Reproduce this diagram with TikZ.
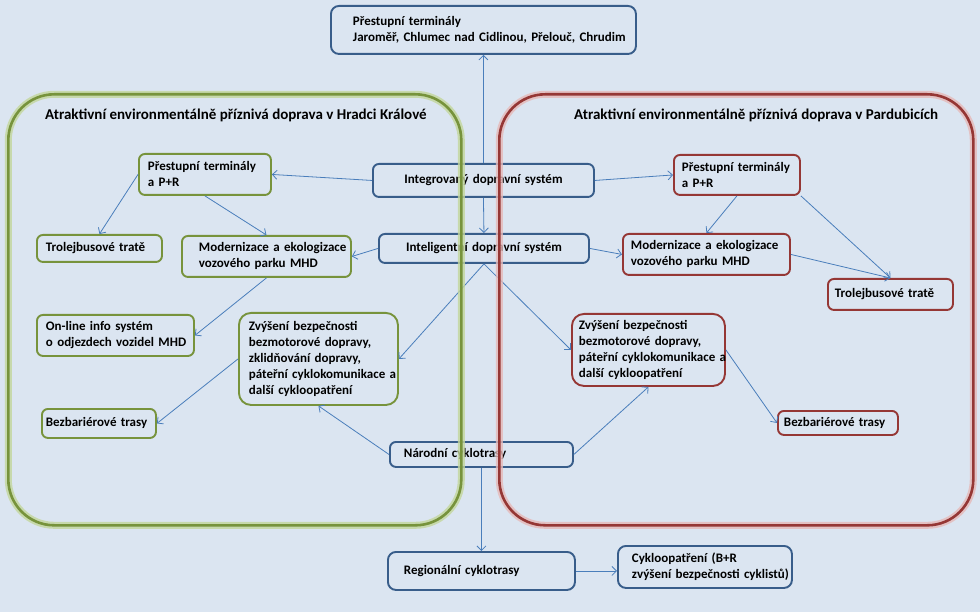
\documentclass[tikz,border=0pt]{standalone}
\usepackage{fontspec}
\setmainfont{Carlito}
\usetikzlibrary{arrows.meta}
\definecolor{bgc}{HTML}{DBE5F1}
\definecolor{boxblue}{HTML}{385D8A}
\definecolor{grn}{HTML}{77933C}
\definecolor{grnglow}{HTML}{C3D69B}
\definecolor{redc}{HTML}{953735}
\definecolor{redglow}{HTML}{E6B9B8}
\definecolor{arrc}{HTML}{4A7EBB}
\newcommand\mkbox[8]{%
  \pgfmathsetmacro\bxw{#5-#3-2*#7}%
  \pgfmathsetmacro\bxh{#6-#4}%
  \node[#1, anchor=north west, text width=\bxw pt, inner xsep=#7pt, minimum height=\bxh pt] (#2) at (#3,#4) {#8};%
}
\tikzset{
  txt/.style={font=\fontsize{13}{16}\selectfont\bfseries, text=black},
  basebox/.style={txt, draw, line width=1.9pt, rounded corners=6pt, inner ysep=0pt, align=left},
  bbox/.style={basebox, draw=boxblue},
  gbox/.style={basebox, draw=grn},
  rbox/.style={basebox, draw=redc},
  conn/.style={draw=arrc, line width=0.8pt, -{Straight Barb[length=4.5pt,width=9pt,line width=0.8pt]}},
  cont/.style={draw, line width=2.6pt, rounded corners=46pt, inner sep=0pt},
  ttl/.style={font=\fontsize{15}{18}\selectfont\bfseries, text=black, inner sep=0pt, anchor=base west}
}
\begin{document}
\begin{tikzpicture}[x=1pt,y=-1pt]
\fill[bgc] (0,0) rectangle (980,612);
\useasboundingbox (0,0) rectangle (980,612);

% top and central blue boxes
\mkbox{bbox, rounded corners=8pt}{top}{330}{5}{635}{53}{22}{\mbox{Přestupní terminály}\\\mbox{Jaroměř, Chlumec nad Cidlinou, Přelouč, Chrudim}}
\mkbox{bbox, align=center}{ids}{372}{163}{593}{196}{6}{\mbox{Integrovaný dopravní systém}}
\mkbox{bbox, align=center}{itl}{378}{233}{588}{262}{6}{\mbox{Inteligentní dopravní systém}}
\mkbox{bbox}{nar}{389}{441}{572}{466}{14}{\mbox{Národní cyklotrasy}}
\mkbox{bbox, rounded corners=8pt}{reg}{387}{551}{574}{589}{16}{\mbox{Regionální cyklotrasy}}
\mkbox{bbox, rounded corners=8pt}{cyk}{617}{545}{791}{587}{14}{\mbox{Cykloopatření (B+R}\\\mbox{zvýšení bezpečnosti cyklistů)}}

% left (green) boxes
\mkbox{gbox}{ptl}{138}{153}{270}{194}{9}{\mbox{Přestupní terminály}\\\mbox{a P+R}}
\mkbox{gbox}{trl}{36}{234}{161}{261}{9}{\mbox{Trolejbusové tratě}}
\mkbox{gbox}{mdl}{181}{235}{350}{276}{17}{\mbox{Modernizace a ekologizace}\\\mbox{vozového parku MHD}}
\mkbox{gbox}{onl}{36}{314}{193}{355}{9}{\mbox{On-line info systém}\\\mbox{o odjezdech vozidel MHD}}
\mkbox{gbox, rounded corners=12pt}{zvl}{238}{312}{397}{404}{10}{\mbox{Zvýšení bezpečnosti}\\\mbox{bezmotorové dopravy,}\\\mbox{zklidňování dopravy,}\\\mbox{páteřní cyklokomunikace a}\\\mbox{další cykloopatření}}
\mkbox{gbox}{bzl}{41}{408}{155}{437}{4}{\mbox{Bezbariérové trasy}}

% right (red) boxes
\mkbox{rbox}{ptr}{673}{154}{799}{194}{8}{\mbox{Přestupní terminály}\\\mbox{a P+R}}
\mkbox{rbox}{mdr}{622}{233}{789}{274}{8}{\mbox{Modernizace a ekologizace}\\\mbox{vozového parku MHD}}
\mkbox{rbox}{trr}{827}{278}{952}{309}{7}{\mbox{Trolejbusové tratě}}
\mkbox{rbox, rounded corners=12pt}{zvr}{571}{313}{724}{385}{7}{\mbox{Zvýšení bezpečnosti}\\\mbox{bezmotorové dopravy,}\\\mbox{páteřní cyklokomunikace a}\\\mbox{další cykloopatření}}
\mkbox{rbox}{bzr}{777}{410}{897}{434}{6}{\mbox{Bezbariérové trasy}}

% connectors
\draw[conn] (ids.north) -- (top.south);
\draw[conn] (ids.south) -- (itl.north);
\draw[conn] (ids.west) -- (ptl.east);
\draw[conn] (ids.east) -- (ptr.west);
\draw[conn] (ptl.west) -- (trl.north);
\draw[conn] (ptl.south) -- (mdl.north);
\draw[conn] (itl.west) -- (mdl.east);
\draw[conn] (itl.east) -- (mdr.west);
\draw[conn] (ptr.south) -- (mdr.north);
\draw[conn] (ptr.south east) -- (trr.north);
\draw[conn] (mdr.east) -- (trr.north);
\draw[conn] (mdl.south) -- (onl.east);
\draw[conn] (itl.south) -- (zvl.east);
\draw[conn] (itl.south) -- (zvr.west);
\draw[conn] (zvl.west) -- (bzl.east);
\draw[conn] (nar.west) -- (zvl.south);
\draw[conn] (nar.east) -- (zvr.south);
\draw[conn] (zvr.east) -- (bzr.west);
\draw[conn] (nar.south) -- (reg.north);
\draw[conn] (reg.east) -- (reg.east -| cyk.west);

% containers
\node[cont, draw=grn, preaction={draw=grnglow, line width=7pt, opacity=0.8}, anchor=north west, minimum width=453pt, minimum height=431pt] (hk) at (7,93) {};
\node[cont, draw=redc, preaction={draw=redglow, line width=7pt, opacity=0.8}, anchor=north west, minimum width=474pt, minimum height=431pt] (pa) at (498,93) {};
\node[ttl] (hkt) at (45,120) {Atraktivní environmentálně příznivá doprava v Hradci Králové};
\node[ttl] (pat) at (574,120) {Atraktivní environmentálně příznivá doprava v Pardubicích};
\end{tikzpicture}
\end{document}
